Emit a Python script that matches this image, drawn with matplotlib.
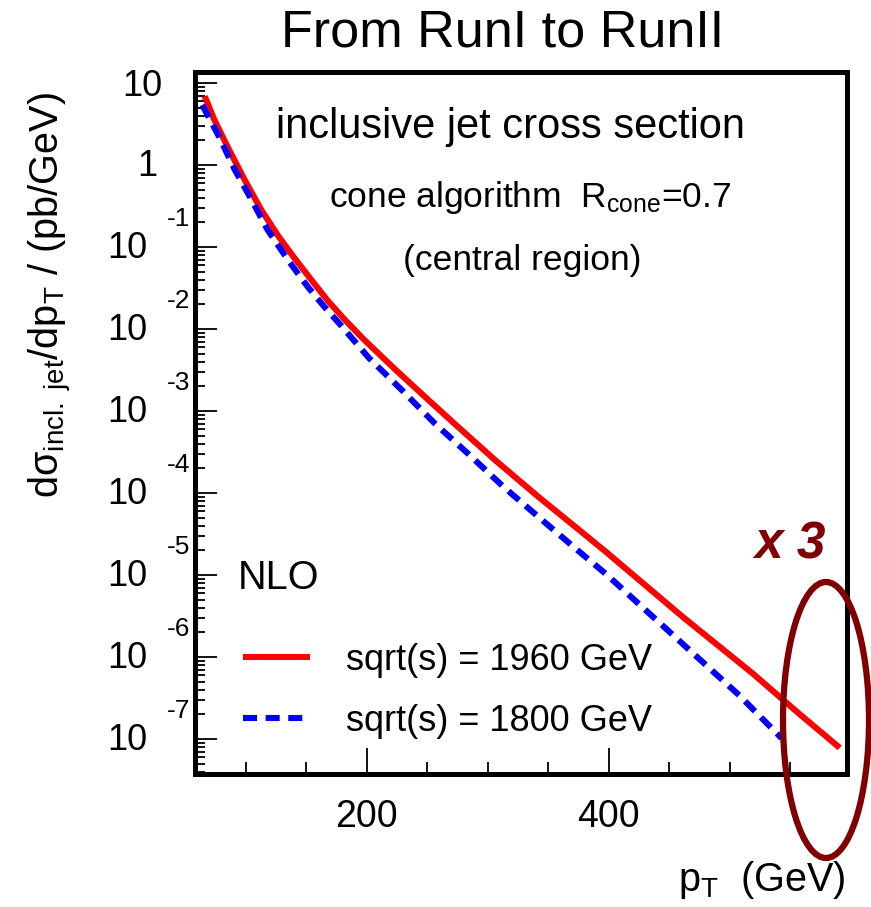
import numpy as np
import matplotlib
matplotlib.use('Agg')
import matplotlib.pyplot as plt
import matplotlib.transforms as mtransforms
from matplotlib.patches import Ellipse
from matplotlib.ticker import LogLocator, MultipleLocator, NullFormatter

plt.rcParams['font.family'] = ['Liberation Sans', 'DejaVu Sans']
plt.rcParams['mathtext.fontset'] = 'custom'
plt.rcParams['mathtext.rm'] = 'Liberation Sans'
plt.rcParams['mathtext.it'] = 'Liberation Sans:italic'
plt.rcParams['mathtext.bf'] = 'Liberation Sans:bold'

# NLO inclusive jet cross section (pb/GeV)
pt_1960 = [66, 74, 85, 99, 113, 127, 140, 154, 168, 182, 197, 224, 252, 273, 307, 343, 376, 398,
           461, 519, 558, 591]
xs_1960 = [6.9, 3.55, 1.66, 0.66, 0.28, 0.135, 0.074, 0.040, 0.0219, 0.0129, 7.6e-3, 3.16e-3,
           1.32e-3, 6.9e-4, 2.45e-4, 8.7e-5, 3.5e-5, 1.9e-5, 3.1e-6, 6.3e-7, 2.0e-7, 7.8e-8]

pt_1800 = [64, 78, 91, 105, 118, 135, 151, 165, 177, 202, 229, 256, 285, 313, 342, 371, 398,
           453, 508, 543]
xs_1800 = [5.4, 2.2, 0.87, 0.37, 0.162, 0.069, 0.033, 0.0186, 0.0118, 4.4e-3, 1.8e-3, 7.1e-4,
           2.9e-4, 1.19e-4, 5.1e-5, 2.2e-5, 1.02e-5, 1.86e-6, 3.4e-7, 1.02e-7]

legend_labels = ['sqrt(s) = 1960 GeV', 'sqrt(s) = 1800 GeV']
x_ticks = [200, 400]
y_decades = list(range(1, -8, -1))

W, H = 871, 907
dark_red = '#800000'


def fpos(x, y):
    # pixel position -> figure fraction
    return x / W, 1 - y / H


fig = plt.figure(figsize=(W / 100, H / 100), dpi=100)
ax = fig.add_axes([195 / W, 1 - 774 / H, (847 - 195) / W, (774 - 72) / H])

ax.plot(pt_1960, xs_1960, color='#ff0000', lw=4.4, solid_capstyle='butt', solid_joinstyle='round',
        label=legend_labels[0])
ax.plot(pt_1800, xs_1800, color='#0000ff', lw=4.4, linestyle=(0, (2.3, 1.4)),
        label=legend_labels[1])

ax.set_yscale('log')
ax.set_xlim(58, 597)
ax.set_ylim(10 ** -7.427, 10 ** 1.134)

ax.xaxis.set_major_locator(MultipleLocator(200))
ax.xaxis.set_minor_locator(MultipleLocator(50))
ax.set_xticks(x_ticks)
ax.set_xticklabels([str(v) for v in x_ticks], fontsize=27)
ax.yaxis.set_major_locator(LogLocator(base=10, numticks=20))
ax.yaxis.set_minor_locator(LogLocator(base=10, subs=np.arange(2, 10), numticks=20))
ax.yaxis.set_major_formatter(NullFormatter())
ax.yaxis.set_minor_formatter(NullFormatter())

ax.tick_params(axis='x', which='major', direction='in', length=19, width=1.3, pad=18)
ax.tick_params(axis='x', which='minor', direction='in', length=8.5, width=1.3)
ax.tick_params(axis='y', which='major', direction='in', length=16, width=1.3)
ax.tick_params(axis='y', which='minor', direction='in', length=7.5, width=1.3)
for sp in ax.spines.values():
    sp.set_linewidth(3.6)

# ROOT style log labels: "10" with the exponent raised to the right
ytrans = ax.get_yaxis_transform()
for k in y_decades:
    v = 10.0 ** k
    if k == 1:
        t = mtransforms.offset_copy(ytrans, fig=fig, x=0, y=-4, units='dots')
        ax.text(-0.0506, v, '10', transform=t, ha='right', va='center', fontsize=26)
    elif k == 0:
        t = mtransforms.offset_copy(ytrans, fig=fig, x=0, y=-2, units='dots')
        ax.text(-0.0583, v, '1', transform=t, ha='right', va='center', fontsize=26)
    else:
        t = mtransforms.offset_copy(ytrans, fig=fig, x=0, y=-2, units='dots')
        ax.text(-0.0736, v, '10', transform=t, ha='right', va='center', fontsize=26)
        t2 = mtransforms.offset_copy(ytrans, fig=fig, x=0, y=28, units='dots')
        ax.text(-0.0429, v, str(k), transform=t2, ha='left', va='center', fontsize=19)

leg = ax.legend(loc='upper left', bbox_to_anchor=(0.0736, 0.187), frameon=False, fontsize=26,
                handlelength=1.85, handletextpad=1.0, labelspacing=0.72, borderpad=0, borderaxespad=0)

fig.text(*fpos(503, 33), 'From RunI to RunII', ha='center', va='center', fontsize=37.5)
fig.text(*fpos(510, 127), 'inclusive jet cross section', ha='center', va='center', fontsize=30)
fig.text(*fpos(530, 197), r'cone algorithm  R$_{\mathrm{cone}}$=0.7', ha='center', va='center', fontsize=25.5)
fig.text(*fpos(522, 260), '(central region)', ha='center', va='center', fontsize=25.5)
fig.text(*fpos(238, 578), 'NLO', ha='left', va='center', fontsize=28.5)
fig.text(*fpos(790, 545), 'x 3', ha='center', va='center', fontsize=37, fontweight='bold',
         fontstyle='italic', color=dark_red)

fig.text(*fpos(846, 880), r'p$_{\mathrm{T}}$  (GeV)', ha='right', va='center', fontsize=28.5)
fig.text(*fpos(50, 295), 'dσ$_{\\mathrm{incl.\\ jet}}$/dp$_{\\mathrm{T}}$ / (pb/GeV)',
         ha='center', va='center', rotation=90, fontsize=28.5)

ell = Ellipse(fpos(826, 720), 86 / W, 276 / H, transform=fig.transFigure, fill=False,
              edgecolor=dark_red, lw=4.5, clip_on=False)
fig.add_artist(ell)

fig.savefig('out.png', dpi=100)
